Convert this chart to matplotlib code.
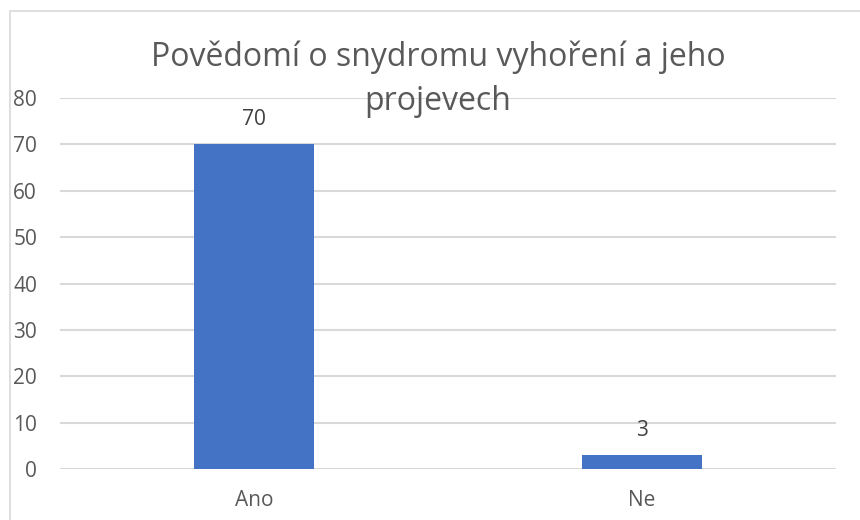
import matplotlib.pyplot as plt
from matplotlib.patches import Rectangle

# Data
categories = ["Ano", "Ne"]
values = [70, 3]
y_ticks = [0, 10, 20, 30, 40, 50, 60, 70, 80]
title_lines = ["Povědomí o snydromu vyhoření a jeho", "projevech"]

plt.rcParams['font.family'] = ['Open Sans', 'DejaVu Sans']

W, H = 860, 520
fig = plt.figure(figsize=(8.6, 5.2), dpi=100)
ax = fig.add_axes([60 / W, 51 / H, 776 / W, 371 / H])

x = range(len(categories))
ax.bar(x, values, width=0.31, color="#4472C4", zorder=3)
ax.set_xlim(-0.5, len(categories) - 0.5)
ax.set_ylim(0, 80)
ax.set_yticks(y_ticks)
ax.set_xticks(list(x))
ax.set_xticklabels(categories)

ax.grid(axis="y", color="#D9D9D9", linewidth=1.5, zorder=0)
for s in ax.spines.values():
    s.set_visible(False)
ax.tick_params(axis="both", length=0, labelsize=15, colors="#595959")
ax.tick_params(axis="y", pad=16.5)
ax.tick_params(axis="x", pad=15)

# Data labels
for xi, v in zip(x, values):
    ax.annotate(str(v), (xi, v), xytext=(0, 10.5), textcoords="offset points",
                ha="center", va="bottom", fontsize=15, color="#404040")

# Title, two lines as in the reference
fig.text(438 / W, 1 - 57 / H, title_lines[0], ha="center", va="center",
         fontsize=23, color="#595959")
fig.text(438 / W, 1 - 102 / H, title_lines[1], ha="center", va="center",
         fontsize=23, color="#595959")

# Chart border (partially visible)
fig.patches.append(Rectangle((9.5 / W, -0.1), 1.2, 1 - 10.5 / H + 0.1,
                             transform=fig.transFigure, fill=False,
                             edgecolor="#D9D9D9", linewidth=1.2))

fig.savefig("out.png", dpi=100)
